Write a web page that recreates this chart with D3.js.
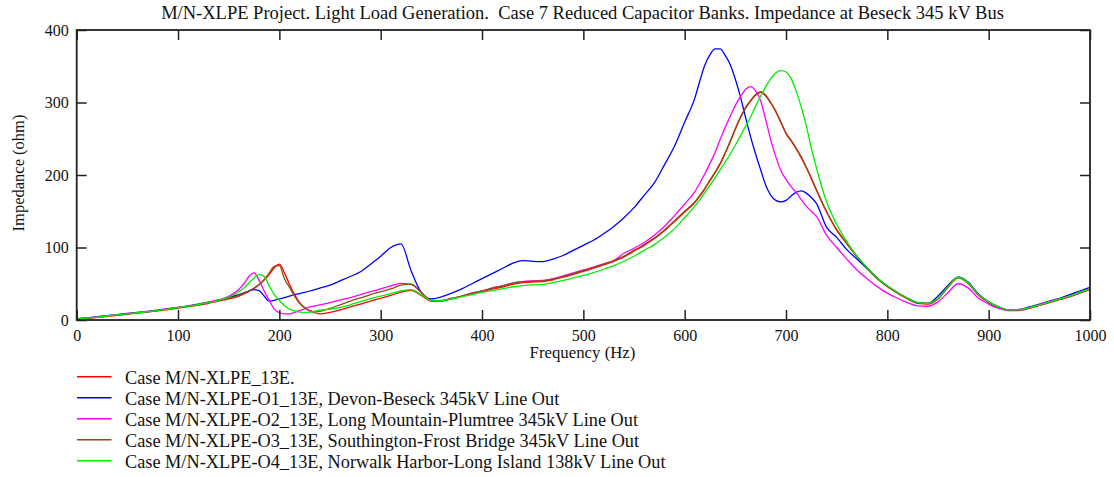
<!DOCTYPE html>
<html>
<head>
<meta charset="utf-8">
<script src="https://cdn.jsdelivr.net/npm/d3@7"></script>
<style>
  html, body { margin: 0; padding: 0; background: #fff; }
  svg text { font-family: "Liberation Serif", "Times New Roman", serif; fill: #111; }
</style>
</head>
<body>
<svg id="chart" width="1114" height="477"></svg>
<script>
const title = "M/N-XLPE Project. Light Load Generation.  Case 7 Reduced Capacitor Banks. Impedance at Beseck 345 kV Bus";
const xLabel = "Frequency (Hz)";
const yLabel = "Impedance (ohm)";
const xTicks = [0,100,200,300,400,500,600,700,800,900,1000];
const yTicks = [0,100,200,300,400];

const freq = [
  0,10,20,30,40,50,60,70,80,90,100,110,120,130,140,150,
  160,165,170,175,180,185,190,195,200,205,210,215,220,225,230,235,240,
  250,260,270,280,290,300,310,320,330,340,350,360,370,380,390,400,410,420,430,440,450,460,470,480,490,500,510,520,530,540,550,560,570,580,590,600,
  610,615,620,625,630,635,640,645,650,655,660,665,670,675,680,685,690,695,700,705,710,715,720,725,730,
  740,750,760,770,780,790,800,810,820,830,840,850,860,870,880,890,900,910,920,930,940,950,960,970,980,990,1000
];

const seriesNames = [
  "Case M/N-XLPE_13E.",
  "Case M/N-XLPE-O1_13E, Devon-Beseck 345kV Line Out",
  "Case M/N-XLPE-O2_13E, Long Mountain-Plumtree 345kV Line Out",
  "Case M/N-XLPE-O3_13E, Southington-Frost Bridge 345kV Line Out",
  "Case M/N-XLPE-O4_13E, Norwalk Harbor-Long Island 138kV Line Out"
];
const seriesColors = ["#ff0000", "#0000ff", "#ff00ff", "#964b14", "#00ee00"];

const zRed = [
  1,2,3.5,5,6.5,8,9.5,11,12.5,14.5,16.5,18.5,20.5,23,26,29,
  33,36,39.5,43.5,48.5,55,63,72,77,65,49,35,24,17,12.5,10,8.5,
  10.5,14,18,22,26,30,34,38.5,41,34,26,26.5,29.5,32.5,36,39,42.5,45.5,49,51.5,52.5,53,55.5,59,63,67,71.5,76,81,87,95,103,112,123,136,149,
  162,171,181,192,203,215,230,246,263,279,292,302,310,314,309,299,287,272,257,247,236,224,210,195,179,
  149,124,105,87,71,57,46,37,29,23,22,29,45,58,50,34,24,17,13,13,16,20,24,28,32,37,42
];
const zBlue = [
  2,3,4.5,6,7.5,9,10.5,12,13.5,15.5,17.5,19.5,22,24.5,27.5,31,
  35,37.5,40,42,40.5,33,26,27,29,31,33,35,36.5,38,40,42,44,
  48,54,60,66.5,77,88,100,105,68,38,29,32,37,43,50,57,64,71,78,82,81,80.5,84,89,96,103,110,119,129,141,155,172,189,214,240,273,
  306,330,352,366,374,374,365,352,332,308,280,253,229,207,186,172,165,163,165,171,176,178,175,169,161,
  128,114,97,84,71,58,47,38,30,24,23,33,48,59,52,36,25,18,14,14.5,18,22,26,30,35,40,45
];
const zMagenta = [
  1.5,2.5,4,5.5,7,8.5,10,11.5,13,15,17,19,21.5,24.5,28,32.5,
  42,50,60,65,55,40,27,15,10,8.5,8.5,10.5,13,15.5,18,19.5,21,
  24,27.5,31,35,39,43,47,50.5,49,38,27,26,29,33,37,40,44,47,51,53,54,54.5,57,61,65,69,73,77.5,82,92,99,107,117,129,144,160,
  177,189,202,216,231,249,266,281,296,308,318,322,316,302,276,248,225,206,194,184,176,166,157,150,143,
  117,100,84,69,57,46,37,30,24,19.5,19,25,38,50,44,30,22,16,13.5,14,17,21,25,29,33,38,43
];
const zBrown = [
  1.5,2.5,4,5.5,7,8.5,10,11.5,13,15,17,19,21.5,24,27,30,
  34,37,40,44,49,56,65,74,75,57,45,33,23,17,13,11.5,12,
  16,21,26,30.5,35,39,43,48,49.5,38,26.5,27,30,33,37,40,44,47,51,53,53.5,54,56.5,60,64,68,72.5,77,82,88,96,104,113,124,137,150,
  163,172,182,193,204,216,231,247,264,280,293,303,311,315,310,300,288,273,258,248,237,225,211,196,180,
  150,125,106,88,72,58,47,38,30,24,23,30,46,59,51,35,25,18,14,14,17,21,25,29,33,38,43
];
const zGreen = [
  1.5,2.5,4,5.5,7,8.5,10,11.5,13,15,17,19,21.5,24,27,31.5,
  39,44,51,58,63,60,47,35,27,20,15,12.5,11,10.5,11,12,13.5,
  15,17.5,21,25.5,29.5,33,36.5,40,42,35,27,26.5,29,32,35,38,40.5,43,45.5,47.5,48.5,49,51.5,54.5,58,61.5,65.5,70,75,81,88,96,104,114,126,141,
  157,166,176,186,196,207,218,229,241,254,267,280,295,309,322,333,341,344,342,333,316,294,268,237,210,
  163,132,108,88,72,58,47,38,30,24,23,30,46,59,51,35,25,18,14,14,17,21,25,29,33,38,43
];
const seriesValues = [zRed, zBlue, zMagenta, zBrown, zGreen];

(function () {
  const svg = d3.select("#chart");
  svg.append("rect").attr("width", 1114).attr("height", 477).attr("fill", "#fff");

  const pL = 76.7, pR = 1090, pT = 30, pB = 320;
  const x = d3.scaleLinear().domain([0, 1000]).range([pL, pR]);
  const y = d3.scaleLinear().domain([0, 400]).range([pB, pT]);

  svg.append("clipPath").attr("id", "plotclip")
    .append("rect").attr("x", pL).attr("y", pT).attr("width", pR - pL).attr("height", pB - pT);

  const line = d3.line().x((d, i) => x(freq[i])).y(d => y(d)).curve(d3.curveMonotoneX);
  const g = svg.append("g").attr("clip-path", "url(#plotclip)");
  seriesValues.forEach((vals, k) => {
    g.append("path").datum(vals)
      .attr("d", line)
      .attr("fill", "none")
      .attr("stroke", seriesColors[k])
      .attr("stroke-width", 1.3)
      .attr("stroke-linejoin", "round");
  });

  const tickLen = 10;
  const axisColor = "#222";
  const styleText = s => s.selectAll("text").attr("font-size", 16)
    .attr("font-family", "Liberation Serif, Times New Roman, serif").attr("fill", "#111");
  const styleLines = s => s.selectAll("line").attr("stroke", axisColor).attr("stroke-width", 1.5);

  svg.append("g").attr("transform", `translate(0,${pB})`)
    .call(d3.axisBottom(x).tickValues(xTicks).tickSize(-tickLen).tickPadding(10).tickFormat(d3.format("d")))
    .call(s => s.select(".domain").remove())
    .call(styleLines).call(styleText);
  svg.append("g").attr("transform", `translate(0,${pT})`)
    .call(d3.axisTop(x).tickValues(xTicks).tickSize(-tickLen).tickFormat(""))
    .call(s => s.select(".domain").remove())
    .call(styleLines);
  svg.append("g").attr("transform", `translate(${pL},0)`)
    .call(d3.axisLeft(y).tickValues(yTicks).tickSize(-tickLen).tickPadding(8).tickFormat(d3.format("d")))
    .call(s => s.select(".domain").remove())
    .call(styleLines).call(styleText);
  svg.append("g").attr("transform", `translate(${pR},0)`)
    .call(d3.axisRight(y).tickValues(yTicks).tickSize(-tickLen).tickFormat(""))
    .call(s => s.select(".domain").remove())
    .call(styleLines);

  svg.append("rect").attr("x", pL).attr("y", pT).attr("width", pR - pL).attr("height", pB - pT)
    .attr("fill", "none").attr("stroke", axisColor).attr("stroke-width", 1.8);

  svg.append("text").attr("x", 582.5).attr("y", 19)
    .attr("text-anchor", "middle").attr("font-size", 18.5).style("white-space", "pre").text(title);
  svg.append("text").attr("x", 582.5).attr("y", 358)
    .attr("text-anchor", "middle").attr("font-size", 16.8).text(xLabel);
  svg.append("text").attr("transform", `translate(24,173) rotate(-90)`)
    .attr("text-anchor", "middle").attr("font-size", 16.5).text(yLabel);

  const legY0 = 376.7, legStep = 21;
  seriesNames.forEach((name, k) => {
    const yy = legY0 + k * legStep;
    svg.append("line").attr("x1", 77).attr("x2", 111.5).attr("y1", yy).attr("y2", yy)
      .attr("stroke", seriesColors[k]).attr("stroke-width", 1.4);
    svg.append("text").attr("x", 125).attr("y", yy + 7.5).attr("font-size", 18.3).text(name);
  });
})();
</script>
</body>
</html>
